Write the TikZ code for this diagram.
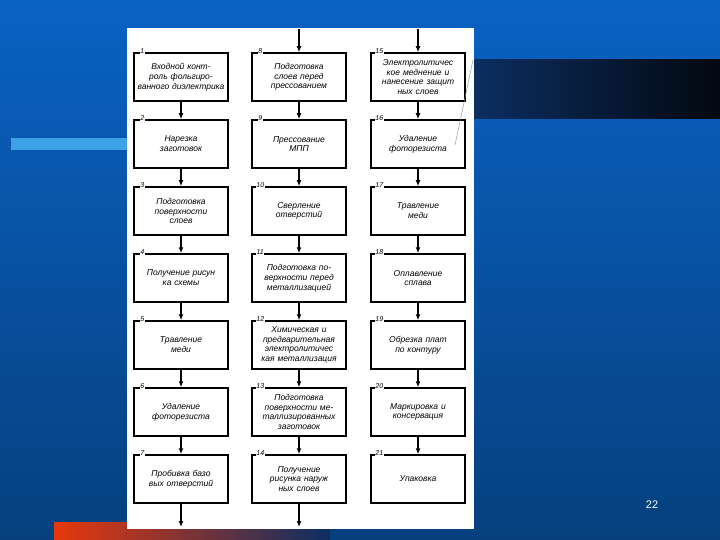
\documentclass[tikz,border=0pt]{standalone}
\usepackage{fontspec}
\setmainfont{Liberation Sans}
\usetikzlibrary{positioning, arrows.meta, calc}
\definecolor{slidetop}{HTML}{0A62C4}
\definecolor{slidebottom}{HTML}{06407E}
\definecolor{bandnavy}{HTML}{0C2E62}
\definecolor{bandblack}{HTML}{020810}
\definecolor{lightbar}{HTML}{3DA2E6}
\definecolor{redbar}{HTML}{E8380C}

\begin{document}
\begin{tikzpicture}[x=1pt, y=-1pt,
  stage/.style={draw, line width=1.5pt, rectangle, minimum width=94pt, minimum height=48pt,
    text width=90pt, align=center, inner sep=1pt,
    font=\itshape\fontsize{8.5}{9.8}\selectfont},
  num/.style={fill=white, inner sep=0.6pt, font=\itshape\fontsize{7}{7}\selectfont},
  flow/.style={-{Latex[length=6pt,width=5pt]}, line width=1.3pt}]
\useasboundingbox (0,0) rectangle (720,540);

% Slide background
\shade[top color=slidetop, bottom color=slidebottom] (0,0) rectangle (720,540);
\shade[left color=bandnavy, right color=bandblack] (474,60) rectangle (720,119);
\fill[lightbar] (11,138) rectangle (127,150);
\shade[left color=redbar, right color=bandnavy] (54,522) rectangle (330,540);
\fill[white] (127,28) rectangle (474,529);
\node[text=white, font=\fontsize{11}{11}\selectfont\rmfamily] (page) at (652,505) {22};

% Column 1
\node[stage] (S1) at (181,77) {Входной конт-\\роль фольгиро-\\ванного диэлектрика};
\node[stage] (S2) at (181,144) {Нарезка\\заготовок};
\node[stage] (S3) at (181,211) {Подготовка\\поверхности\\слоев};
\node[stage] (S4) at (181,278) {Получение рисун\\ка схемы};
\node[stage] (S5) at (181,345) {Травление\\меди};
\node[stage] (S6) at (181,412) {Удаление\\фоторезиста};
\node[stage] (S7) at (181,479) {Пробивка базо\\вых отверстий};

% Column 2
\node[stage] (S8) at (299,77) {Подготовка\\слоев перед\\прессованием};
\node[stage] (S9) at (299,144) {Прессование\\МПП};
\node[stage] (S10) at (299,211) {Сверление\\отверстий};
\node[stage] (S11) at (299,278) {Подготовка по-\\верхности перед\\металлизацией};
\node[stage] (S12) at (299,345) {Химическая и\\предварительная\\электролитичес\\кая металлизация};
\node[stage] (S13) at (299,412) {Подготовка\\поверхности ме-\\таллизированных\\заготовок};
\node[stage] (S14) at (299,479) {Получение\\рисунка наруж\\ных слоев};

% Column 3
\node[stage] (S15) at (418,77) {Электролитичес\\кое меднение и\\нанесение защит\\ных слоев};
\node[stage] (S16) at (418,144) {Удаление\\фоторезиста};
\node[stage] (S17) at (418,211) {Травление\\меди};
\node[stage] (S18) at (418,278) {Оплавление\\сплава};
\node[stage] (S19) at (418,345) {Обрезка плат\\по контуру};
\node[stage] (S20) at (418,412) {Маркировка и\\консервация};
\node[stage] (S21) at (418,479) {Упаковка};

% Step numbers on the frames
\foreach \i in {1,...,21} {
  \node[num] (N\i) at ($(S\i.north west)+(9,-1.5)$) {\i};
}

% Flow arrows
\foreach \a/\b in {1/2,2/3,3/4,4/5,5/6,6/7,8/9,9/10,10/11,11/12,12/13,13/14,
  15/16,16/17,17/18,18/19,19/20,20/21} {
  \draw[flow] (S\a) -- (S\b);
}

% Entry and exit arrows
\coordinate (in8) at (299,29);
\coordinate (in15) at (418,29);
\coordinate (out7) at (181,527);
\coordinate (out14) at (299,527);
\draw[flow] (in8) -- (S8);
\draw[flow] (in15) -- (S15);
\draw[flow] (S7) -- (out7);
\draw[flow] (S14) -- (out14);

% Stray line of the scan
\draw[thin, black!45] (473,60) -- (455,145);
\end{tikzpicture}
\end{document}
